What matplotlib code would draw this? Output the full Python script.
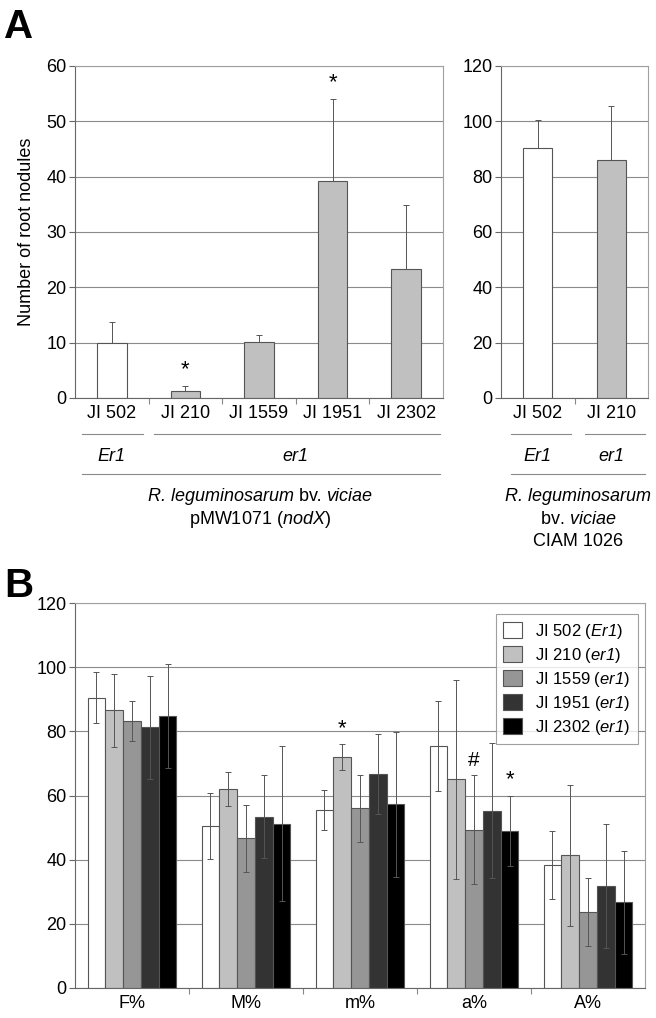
import matplotlib.pyplot as plt
import matplotlib.transforms as mtransforms
import numpy as np

plt.rcParams["font.family"] = ["Liberation Sans", "DejaVu Sans"]
plt.rcParams["mathtext.fontset"] = "custom"
plt.rcParams["mathtext.rm"] = "Liberation Sans"
plt.rcParams["mathtext.it"] = "Liberation Sans:italic"
# \mathsf を斜体として使う（数字も斜体にするため）
plt.rcParams["mathtext.sf"] = "Liberation Sans:italic"

# パネルA（左）: pMW1071 (nodX)
lines_a = ["JI 502", "JI 210", "JI 1559", "JI 1951", "JI 2302"]
nod_a = [10.0, 1.2, 10.2, 39.3, 23.4]
nod_a_err = [3.7, 1.0, 1.2, 14.7, 11.5]
star_a = ["", "*", "", "*", ""]

# パネルA（右）: CIAM 1026
lines_c = ["JI 502", "JI 210"]
nod_c = [90.2, 86.2]
nod_c_err = [10.3, 19.3]

# パネルB
params_b = ["F%", "M%", "m%", "a%", "A%"]
series_b = ["JI 502 ($\\mathsf{Er1}$)", "JI 210 ($\\mathsf{er1}$)",
            "JI 1559 ($\\mathsf{er1}$)", "JI 1951 ($\\mathsf{er1}$)",
            "JI 2302 ($\\mathsf{er1}$)"]
vals_b = [
    [90.5, 50.5, 55.5, 75.4, 38.2],
    [86.6, 62.0, 72.0, 65.0, 41.3],
    [83.2, 46.6, 56.0, 49.4, 23.6],
    [81.2, 53.4, 66.7, 55.3, 31.7],
    [84.7, 51.2, 57.2, 49.0, 26.7],
]
errs_b = [
    [7.9, 10.2, 6.3, 14.0, 10.6],
    [11.4, 5.2, 4.2, 31.0, 22.0],
    [6.1, 10.5, 10.4, 17.0, 10.6],
    [16.0, 12.9, 12.5, 21.0, 19.3],
    [16.2, 24.2, 22.7, 11.0, 16.0],
]
marks_b = [
    ["", "", "", "", ""],
    ["", "", "*", "", ""],
    ["", "", "", "#", ""],
    ["", "", "", "", ""],
    ["", "", "", "*", ""],
]

W, H = 656, 1018
fig = plt.figure(figsize=(W / 100, H / 100), dpi=100)


def fx(px):
    return px / W


def fy(px):
    return 1 - px / H


grid_c = "#8a8a8a"
edge_c = "#555555"
err_c = "#555555"
fs = 13


def style_axes(ax, ymax, ystep):
    ax.set_ylim(0, ymax)
    ax.set_yticks(np.arange(0, ymax + 1, ystep))
    ax.yaxis.grid(True, color=grid_c, lw=0.8)
    ax.set_axisbelow(True)
    for s in ["top", "right"]:
        ax.spines[s].set_color("#a0a0a0")
        ax.spines[s].set_linewidth(0.8)
    for s in ["left", "bottom"]:
        ax.spines[s].set_color("#666666")
        ax.spines[s].set_linewidth(0.8)
    ax.tick_params(axis="y", length=4, width=0.8, color="#666666",
                   labelsize=fs, pad=2)
    ax.tick_params(axis="x", which="major", length=0, labelsize=fs, pad=5)
    ax.tick_params(axis="x", which="minor", length=4, width=0.8,
                   color="#888888")


# ---- A 左
axA = fig.add_axes([fx(75), fy(398), fx(443 - 75), (398 - 66) / H])
xa = np.arange(len(lines_a))
cols_a = ["white"] + ["#c0c0c0"] * 4
axA.bar(xa, nod_a, width=0.4, color=cols_a, edgecolor=edge_c, lw=0.8)
axA.errorbar(xa, nod_a, yerr=[np.zeros(len(nod_a)), nod_a_err], fmt="none",
             ecolor=err_c, elinewidth=0.7, capsize=2.5, capthick=0.7)
for x, v, e, s in zip(xa, nod_a, nod_a_err, star_a):
    if s:
        axA.text(x, v + e + 1.0, s, ha="center", va="bottom", fontsize=16)
axA.set_xlim(-0.5, 4.5)
axA.set_xticks(xa)
axA.set_xticklabels(lines_a)
axA.set_xticks(np.arange(0.5, 4, 1), minor=True)
style_axes(axA, 60, 10)
axA.set_ylabel("Number of root nodules", fontsize=fs, labelpad=8)

# ---- A 右
axC = fig.add_axes([fx(501), fy(398), fx(648 - 501), (398 - 66) / H])
xc = np.arange(len(lines_c))
axC.bar(xc, nod_c, width=0.4, color=["white", "#c0c0c0"], edgecolor=edge_c,
        lw=0.8)
axC.errorbar(xc, nod_c, yerr=[np.zeros(len(nod_c)), nod_c_err], fmt="none",
             ecolor=err_c, elinewidth=0.7, capsize=2.5, capthick=0.7)
axC.set_xlim(-0.5, 1.5)
axC.set_xticks(xc)
axC.set_xticklabels(lines_c)
axC.set_xticks([0.5], minor=True)
style_axes(axC, 120, 20)

# 下の注記（遺伝子型と菌株）
line_c = "#8a8a8a"
bA = mtransforms.blended_transform_factory(axA.transData, fig.transFigure)
bC = mtransforms.blended_transform_factory(axC.transData, fig.transFigure)
for (x0, x1, py, tr) in [(-0.41, 0.42, 434, bA), (0.57, 4.46, 434, bA),
                         (-0.41, 4.46, 474, bA),
                         (-0.36, 0.45, 434, bC), (0.64, 1.46, 434, bC),
                         (-0.36, 1.46, 474, bC)]:
    fig.add_artist(plt.Line2D([x0, x1], [fy(py), fy(py)], transform=tr,
                              color=line_c, lw=0.8))
kw = dict(ha="center", va="center", fontsize=fs)
fig.text(0, fy(456), "Er1", transform=bA, style="italic", **kw)
fig.text(2.5, fy(456), "er1", transform=bA, style="italic", **kw)
fig.text(0, fy(456), "Er1", transform=bC, style="italic", **kw)
fig.text(1, fy(456), "er1", transform=bC, style="italic", **kw)

# "R. leguminosarum bv. viciae" を3つの文字列でつなぐ
t_bv = fig.text(fx(310), fy(497), " bv. ", **kw)
fig.add_artist(plt.Annotation("R. leguminosarum", xy=(0, 0), xycoords=t_bv,
                              ha="right", va="bottom", style="italic",
                              fontsize=fs))
fig.add_artist(plt.Annotation("viciae", xy=(1, 0), xycoords=t_bv,
                              ha="left", va="bottom", style="italic",
                              fontsize=fs))
fig.text(2.02, fy(519), "pMW1071 ($\\mathsf{nodX}$)", transform=bA, **kw)
fig.text(0.55, fy(497), "R. leguminosarum", transform=bC, style="italic",
         **kw)
fig.text(0.55, fy(519), "bv. $\\mathsf{viciae}$", transform=bC, **kw)
fig.text(0.55, fy(541), "CIAM 1026", transform=bC, **kw)

# ---- B
axB = fig.add_axes([fx(75), fy(988), fx(645 - 75), (988 - 603) / H])
xb = np.arange(len(params_b))
cols_b = ["#ffffff", "#c0c0c0", "#969696", "#333333", "#000000"]
bw = 0.156
for i in range(len(series_b)):
    pos = xb + (i - 2) * bw
    axB.bar(pos, vals_b[i], width=bw, color=cols_b[i], edgecolor=edge_c,
            lw=0.8, label=series_b[i])
    axB.errorbar(pos, vals_b[i], yerr=errs_b[i], fmt="none", ecolor=err_c,
                 elinewidth=0.7, capsize=2.5, capthick=0.7)
    for p, v, e, m in zip(pos, vals_b[i], errs_b[i], marks_b[i]):
        if m:
            axB.text(p, v + e + 1.5, m, ha="center", va="bottom",
                     fontsize=16 if m == "*" else 15)
axB.set_xlim(-0.5, 4.5)
axB.set_xticks(xb)
axB.set_xticklabels(params_b)
axB.set_xticks(np.arange(0.5, 4, 1), minor=True)
style_axes(axB, 120, 20)
leg = axB.legend(loc="upper right", bbox_to_anchor=(0.993, 0.98),
                 fontsize=12, frameon=True, fancybox=False, handlelength=1.1,
                 handleheight=1.1, handletextpad=0.8, labelspacing=0.3,
                 borderpad=0.45, borderaxespad=0.2)
leg.get_frame().set_edgecolor("#888888")
leg.get_frame().set_linewidth(0.8)

# パネル記号
fig.text(fx(4), fy(38), "A", fontsize=29, fontweight="bold", va="baseline")
fig.text(fx(4), fy(597), "B", fontsize=29, fontweight="bold", va="baseline")

fig.savefig("out.png", dpi=100)
